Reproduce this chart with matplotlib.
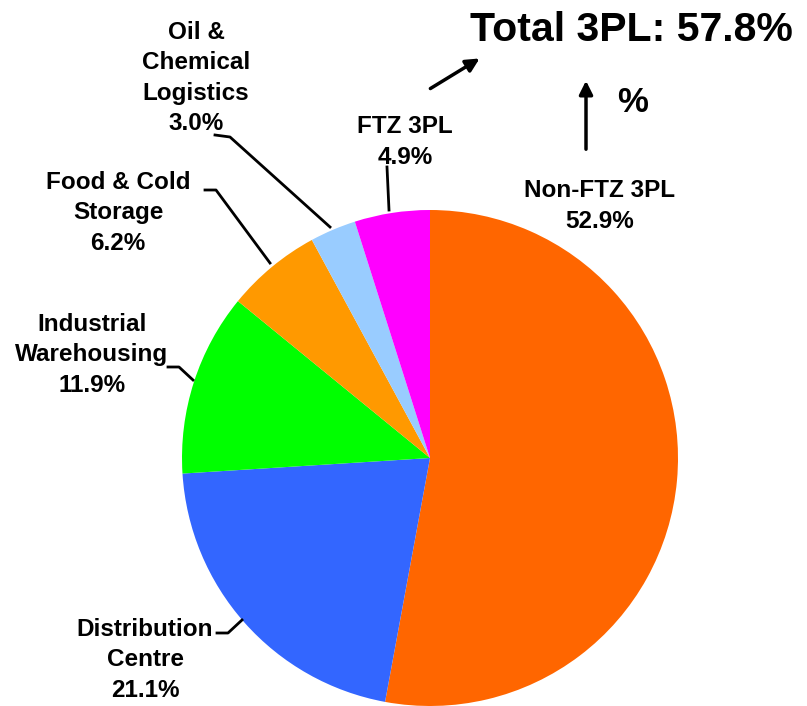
import matplotlib.pyplot as plt

labels = ['Non-FTZ 3PL', 'Distribution\nCentre', 'Industrial\nWarehousing',
          'Food & Cold\nStorage', 'Oil &\nChemical\nLogistics', 'FTZ 3PL']
shares = [52.9, 21.1, 11.9, 6.2, 3.0, 4.9]
colours = ['#FF6600', '#3366FF', '#00FF00', '#FF9900', '#99CCFF', '#FF00FF']
total_3pl = 57.8

W, H = 807, 706
def Y(y):
    return H - y

plt.rcParams['font.family'] = ['Liberation Sans', 'DejaVu Sans']

fig = plt.figure(figsize=(W / 100, H / 100), dpi=100)
ax = fig.add_axes([0, 0, 1, 1])
ax.pie(shares, colors=colours, startangle=90, counterclock=False,
       center=(430, Y(458)), radius=248, wedgeprops={'linewidth': 0})
ax.set_xlim(0, W)
ax.set_ylim(0, H)
ax.axis('off')

# label block centres (pixel coords from the top-left)
pos = [(600, 206), (145, 660), (92, 355), (118, 213), (196, 78), (405, 142)]
for lab, v, (x, y) in zip(labels, shares, pos):
    ax.text(x, Y(y), '%s\n%.1f%%' % (lab, v), ha='center', va='center',
            fontsize=17.5, fontweight='bold', linespacing=1.42)

# leader lines
leaders = [
    [(215, 135), (230, 137), (330, 227)],
    [(205, 190), (216, 190), (270, 263)],
    [(387, 167), (389, 210)],
    [(168, 367), (179, 367), (193, 380)],
    [(217, 633), (228, 633), (242, 620)],
]
for pts in leaders:
    ax.plot([p[0] for p in pts], [Y(p[1]) for p in pts], color='black', lw=2)

ax.text(631, Y(41), 'Total 3PL: %.1f%%' % total_3pl, ha='center', va='baseline',
        fontsize=29.5, fontweight='bold')
ax.text(633, Y(103), '%', ha='center', va='center', fontsize=25, fontweight='bold')

arrow = dict(arrowstyle='-|>,head_length=0.8,head_width=0.4', color='black', lw=2.5)
ax.annotate('', xy=(482, Y(57)), xytext=(428, Y(90)), arrowprops=arrow)
ax.annotate('', xy=(586, Y(78)), xytext=(586, Y(152)), arrowprops=arrow)

plt.savefig('out.png', dpi=100)
plt.close()
